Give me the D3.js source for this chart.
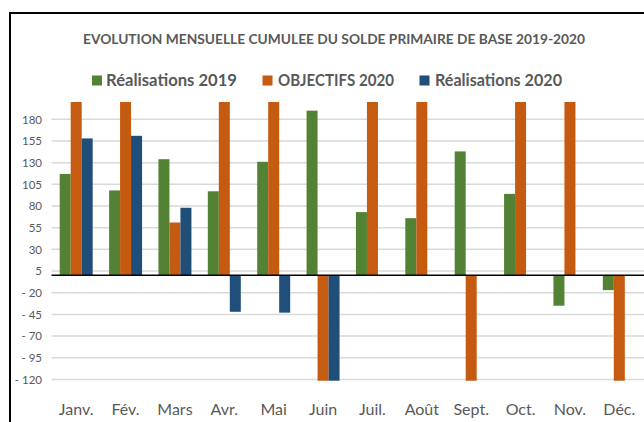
<!DOCTYPE html>
<meta charset="utf-8">
<style>
body { margin: 0; background: #fff; }
svg text { font-family: Lato, "Open Sans", sans-serif; fill: #595959; }
.grid line { stroke: #d9d9d9; stroke-width: 1.5; }
</style>
<svg width="644" height="422"></svg>
<script src="https://d3js.org/d3.v7.min.js"></script>
<script>

var months = ["Janv.", "Fév.", "Mars", "Avr.", "Mai", "Juin", "Juil.", "Août", "Sept.", "Oct.", "Nov.", "Déc."];
var seriesNames = ["Réalisations 2019", "OBJECTIFS 2020", "Réalisations 2020"];
var colours = ["#548235", "#c55a11", "#1f4e79"];

// values; bars running off the chart are set to the axis limits
var real2019 = [117, 98, 134, 97, 131, 190, 73, 66, 143, 94, -35, -17];
var obj2020 = [200, 200, 61, 200, 200, -121.5, 200, 200, -121.5, 200, 200, -121.5];
var real2020 = [158, 161, 78, -42, -43, -121.5, null, null, null, null, null, null];

var yTicks = d3.range(-120, 181, 25);

var svg = d3.select("svg");

var x = d3.scaleBand().domain(months).range([51.5, 644]).paddingInner(0.332).paddingOuter(0.166);
var xs = d3.scaleBand().domain([0, 1, 2]).range([0, x.bandwidth()]);
var y = d3.scaleLinear().domain([-121.5, 200]).range([380.7, 102]).clamp(true);

// frame
svg.append("rect")
  .attr("x", 10).attr("y", 13)
  .attr("width", 660).attr("height", 440)
  .attr("fill", "none").attr("stroke", "#000").attr("stroke-width", 2);

// title
svg.append("text")
  .attr("x", 83).attr("y", 44)
  .attr("textLength", 502).attr("lengthAdjust", "spacingAndGlyphs")
  .style("font-size", "14px").style("font-weight", "bold")
  .text("EVOLUTION  MENSUELLE CUMULEE DU SOLDE  PRIMAIRE DE BASE 2019-2020");

// legend
var legendPos = [[92, 106, 131], [262.5, 278, 116], [419.5, 435, 127]];
seriesNames.forEach(function(name, i) {
  svg.append("rect")
    .attr("x", legendPos[i][0]).attr("y", 75.5)
    .attr("width", 10).attr("height", 10)
    .attr("fill", colours[i]);
  svg.append("text")
    .attr("x", legendPos[i][1]).attr("y", 86)
    .attr("textLength", legendPos[i][2]).attr("lengthAdjust", "spacingAndGlyphs")
    .style("font-size", "17px").style("font-weight", "bold")
    .text(name);
});

// gridlines
svg.append("g").attr("class", "grid")
  .selectAll("line").data(yTicks).enter().append("line")
  .attr("x1", 51.5).attr("x2", 644)
  .attr("y1", function(d) { return y(d); })
  .attr("y2", function(d) { return y(d); });

// y axis labels
var yAxis = svg.append("g")
  .attr("transform", "translate(42,0)")
  .call(d3.axisLeft(y).tickValues(yTicks).tickSize(0).tickPadding(0)
    .tickFormat(function(d) { return d < 0 ? "- " + Math.abs(d) : d; }));
yAxis.select(".domain").remove();
yAxis.selectAll("text")
  .style("font-size", "11.5px")
  .style("font-family", "Lato, sans-serif")
  .attr("fill", "#595959");

// bars
var allSeries = [real2019, obj2020, real2020];
allSeries.forEach(function(vals, s) {
  svg.append("g")
    .selectAll("rect")
    .data(vals.map(function(v, i) { return {m: months[i], v: v}; }).filter(function(d) { return d.v !== null; }))
    .enter().append("rect")
    .attr("x", function(d) { return x(d.m) + xs(s); })
    .attr("width", xs.bandwidth())
    .attr("y", function(d) { return Math.min(y(d.v), y(0)); })
    .attr("height", function(d) { return Math.abs(y(d.v) - y(0)); })
    .attr("fill", colours[s]);
});

// zero axis
svg.append("line")
  .attr("x1", 51.5).attr("x2", 644)
  .attr("y1", y(0)).attr("y2", y(0))
  .attr("stroke", "#000").attr("stroke-width", 1.5);

// month labels
svg.append("g")
  .selectAll("text").data(months).enter().append("text")
  .attr("x", function(d) { return x(d) + x.bandwidth() / 2; })
  .attr("y", 415)
  .attr("text-anchor", "middle")
  .style("font-size", "16px")
  .text(function(d) { return d; });

</script>
